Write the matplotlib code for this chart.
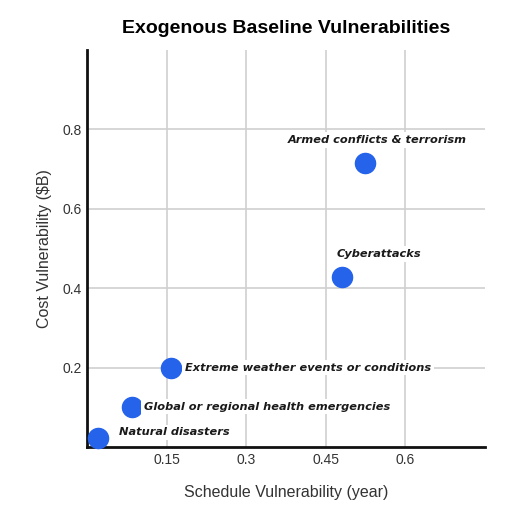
import matplotlib
matplotlib.use("Agg")
import matplotlib.pyplot as plt

# Werte
risks = ["Armed conflicts & terrorism", "Cyberattacks",
         "Extreme weather events or conditions",
         "Global or regional health emergencies", "Natural disasters"]
schedule = [0.524, 0.481, 0.158, 0.084, 0.021]
cost = [0.714, 0.427, 0.200, 0.102, 0.023]

x_ticks = [0.15, 0.3, 0.45, 0.6]
x_tick_labels = ["0.15", "0.3", "0.45", "0.6"]
y_ticks = [0.2, 0.4, 0.6, 0.8]
y_tick_labels = ["0.2", "0.4", "0.6", "0.8"]

# Beschriftungsversatz (Punkte) und Ausrichtung je Punkt
offsets = [(9, 17, "center"), (-4, 17, "left"), (10, 0, "left"),
           (9, 0, "left"), (15, 4, "left")]

fig = plt.figure(figsize=(5.18, 5.08), dpi=100)
ax = fig.add_axes([0.168, 0.120, 0.768, 0.782])

ax.set_xlim(0, 0.75)
ax.set_ylim(0, 1.0)
ax.set_xticks(x_ticks)
ax.set_xticklabels(x_tick_labels)
ax.set_yticks(y_ticks)
ax.set_yticklabels(y_tick_labels)
ax.tick_params(length=0, labelsize=10, labelcolor="#333333", pad=4)
for lab in ax.get_xticklabels() + ax.get_yticklabels():
    lab.set_family("Liberation Sans")

ax.grid(True, color="#cfcfcf", linewidth=1.2)
ax.set_axisbelow(True)
for side in ["top", "right"]:
    ax.spines[side].set_visible(False)
for side in ["left", "bottom"]:
    ax.spines[side].set_linewidth(2)
    ax.spines[side].set_color("#111111")

ax.scatter(schedule, cost, s=210, color="#2563eb", zorder=3, clip_on=False)

for name, xv, yv, (dx, dy, ha) in zip(risks, schedule, cost, offsets):
    ax.annotate(name, (xv, yv), xytext=(dx, dy), textcoords="offset points",
                ha=ha, va="center", fontsize=8.2, fontweight="bold",
                fontstyle="italic", color="#1a1a1a", family="DejaVu Sans",
                bbox=dict(facecolor="white", edgecolor="none", pad=2),
                zorder=4)

ax.set_xlabel("Schedule Vulnerability (year)", fontsize=11.5, color="#333333",
              family="Liberation Sans", labelpad=13)
ax.set_ylabel("Cost Vulnerability ($B)", fontsize=11.5, color="#333333",
              family="Liberation Sans", labelpad=7)
ax.set_title("Exogenous Baseline Vulnerabilities", fontsize=14,
             fontweight="bold", family="Liberation Sans", pad=12)

fig.savefig("out.png", dpi=100, facecolor="white")
